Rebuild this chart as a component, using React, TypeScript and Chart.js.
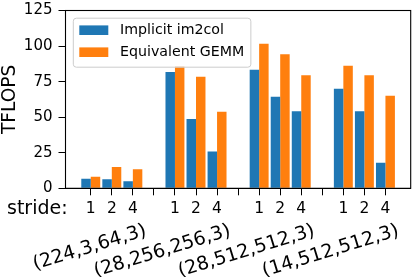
import React, { useEffect, useRef } from 'react';
import { Chart, registerables } from 'chart.js';

Chart.register(...registerables);

// ---- data ----
const groupLabels = ['(224,3,64,3)', '(28,256,256,3)', '(28,512,512,3)', '(14,512,512,3)'];
const strideLabels = ['1', '2', '4'];
const implicitIm2col = [6.8, 6.3, 5.0, 81.8, 48.8, 25.9, 83.4, 64.3, 54.1, 70.0, 54.1, 17.9];
const equivalentGemm = [8.2, 15.0, 13.4, 85.9, 78.4, 53.9, 101.6, 94.3, 79.5, 86.1, 79.5, 65.0];
const seriesNames = ['Implicit im2col', 'Equivalent GEMM'];
const yMin = 0;
const yMax = 125;
const yStep = 25;

const FONT = "'DejaVu Sans', sans-serif";
const BLUE = '#1f77b4';
const ORANGE = '#ff7f0e';

const SLOTS = strideLabels.length + 1;
const positions = groupLabels.flatMap((_, g) => strideLabels.map((__, s) => g * SLOTS + s));
const tickLabels = groupLabels.flatMap((_, g) =>
  g < groupLabels.length - 1 ? [...strideLabels, ''] : [...strideLabels]
);

const overlay = {
  id: 'overlay',
  afterDraw(chart: any) {
    const { ctx, chartArea: a, scales } = chart;
    const x = scales.x;
    ctx.save();
    // full frame (spines)
    ctx.strokeStyle = '#000';
    ctx.lineWidth = 1.1;
    ctx.strokeRect(a.left, a.top, a.right - a.left, a.bottom - a.top);

    // "stride:" label
    ctx.fillStyle = '#000';
    ctx.font = `19px ${FONT}`;
    ctx.textAlign = 'left';
    ctx.textBaseline = 'alphabetic';
    ctx.fillText('stride:', 7, a.bottom + 26);

    // rotated group labels
    groupLabels.forEach((lbl, g) => {
      const cx = x.getPixelForValue(g * SLOTS + 1);
      ctx.save();
      ctx.translate(cx + 35.5, a.bottom + 47);
      ctx.rotate((-17 * Math.PI) / 180);
      ctx.textAlign = 'right';
      ctx.textBaseline = 'alphabetic';
      ctx.fillText(lbl, 0, 0);
      ctx.restore();
    });

    // legend
    const ds = chart.data.datasets;
    ctx.font = `14.2px ${FONT}`;
    const maxW = Math.max(...ds.map((d: any) => ctx.measureText(d.label).width));
    const bx = a.left + 7.8;
    const by = a.top + 7.7;
    const textX = bx + 46.7;
    const bw = textX - bx + maxW + 6.7;
    const bh = 49;
    ctx.beginPath();
    (ctx as any).roundRect(bx, by, bw, bh, 3);
    ctx.fillStyle = 'rgba(255,255,255,0.8)';
    ctx.fill();
    ctx.strokeStyle = '#cccccc';
    ctx.lineWidth = 1;
    ctx.stroke();
    ds.forEach((d: any, i: number) => {
      const cy = by + 12 + i * 22;
      ctx.fillStyle = d.backgroundColor;
      ctx.fillRect(bx + 6, cy - 4.8, 29, 9.6);
      ctx.fillStyle = '#000';
      ctx.textAlign = 'left';
      ctx.textBaseline = 'middle';
      ctx.fillText(d.label, textX, cy);
    });
    ctx.restore();
  },
};

export default function App() {
  const ref = useRef<HTMLCanvasElement>(null);
  useEffect(() => {
    if (!ref.current) return;
    const chart = new Chart(ref.current, {
      type: 'bar',
      data: {
        datasets: [
          {
            label: seriesNames[0],
            data: positions.map((p, i) => ({ x: p, y: implicitIm2col[i] })),
            backgroundColor: BLUE,
            borderWidth: 0,
          },
          {
            label: seriesNames[1],
            data: positions.map((p, i) => ({ x: p, y: equivalentGemm[i] })),
            backgroundColor: ORANGE,
            borderWidth: 0,
          },
        ],
      },
      options: {
        animation: false,
        responsive: false,
        devicePixelRatio: 1,
        categoryPercentage: 0.9,
        barPercentage: 1.0,
        layout: { padding: { top: 5, right: 4.3, left: 0, bottom: 0 } },
        plugins: { legend: { display: false }, tooltip: { enabled: false } },
        scales: {
          x: {
            type: 'linear',
            min: -1.2,
            max: (groupLabels.length * SLOTS - 2) + 1.2,
            offset: false,
            grid: {
              offset: false,
              drawOnChartArea: false,
              drawTicks: true,
              tickLength: 7,
              color: '#000',
              tickWidth: 1,
            },
            border: { display: true, color: '#000', width: 1 },
            afterBuildTicks: (axis: any) => {
              axis.ticks = tickLabels.map((_, i) => ({ value: i }));
            },
            afterFit: (s: any) => {
              s.height = 88.7;
            },
            ticks: {
              autoSkip: false,
              maxRotation: 0,
              minRotation: 0,
              padding: 4,
              color: '#000',
              font: { family: FONT, size: 15.5 },
              callback: (v: any) => {
                const i = Math.round(Number(v));
                return tickLabels[i] ?? '';
              },
            },
          },
          y: {
            min: yMin,
            max: yMax,
            grid: {
              drawOnChartArea: false,
              drawTicks: true,
              tickLength: 7,
              color: '#000',
              tickWidth: 1,
            },
            border: { display: true, color: '#000', width: 1 },
            afterFit: (s: any) => {
              s.width = 65.5;
            },
            ticks: {
              stepSize: yStep,
              padding: 6,
              color: '#000',
              font: { family: FONT, size: 15, lineHeight: 0.6 },
            },
            title: {
              display: true,
              text: 'TFLOPS',
              color: '#000',
              font: { family: FONT, size: 18.6, lineHeight: 1 },
              padding: { top: 0.5, bottom: 0 },
            },
          },
        },
      },
      plugins: [overlay],
    });
    return () => chart.destroy();
  }, []);
  return (
    <div style={{ position: 'fixed', left: 0, top: 0, width: 415, height: 277, background: '#fff' }}>
      <canvas ref={ref} width={415} height={277} />
    </div>
  );
}
